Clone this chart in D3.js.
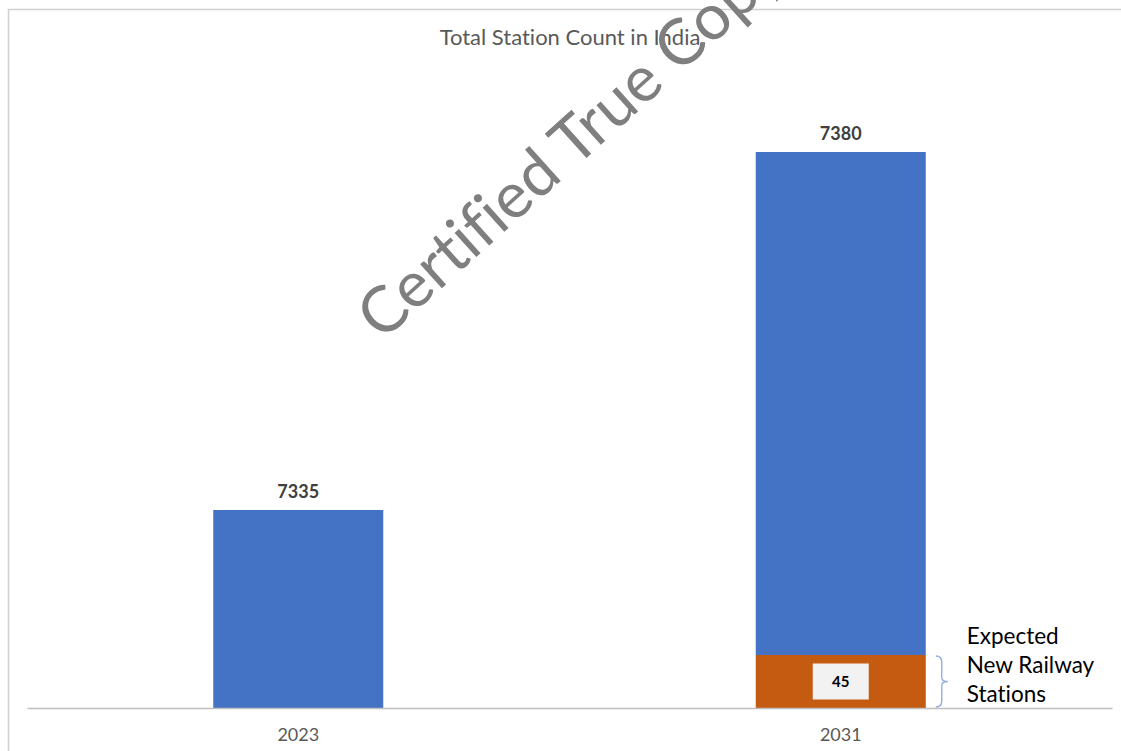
<!DOCTYPE html>
<html>
<head>
<meta charset="utf-8">
<script src="https://cdn.jsdelivr.net/npm/d3@7"></script>
<style>
  body { margin: 0; background: #fff; }
  svg { display: block; font-family: Lato, "Open Sans", sans-serif; font-variant-ligatures: none; }
</style>
</head>
<body>
<svg id="chart"></svg>
<script>
const size = {w: 1121, h: 751};
const svg = d3.select('svg#chart')
    .attr('width', size.w)
    .attr('height', size.h);

//DATA
const years = ['2023', '2031'];
const totals = [7335, 7380];
const newStations = [0, 45];
const chartTitle = 'Total Station Count in India';
const noteLines = ['Expected', 'New Railway', 'Stations'];

//frame of the chart area
svg.append('path')
    .attr('d', `M8.5,${size.h} V9.5 H${size.w}`)
    .attr('fill', 'none')
    .attr('stroke', '#d0d0d0')
    .attr('stroke-width', 1.5);

//SCALES
const x = d3.scaleBand()
    .domain(years)
    .range([27, 1112])
    .paddingInner(0.6866)
    .paddingOuter(0.3433);

// broken value axis: the small "new" part gets its own stretch at the bottom
const y = d3.scaleLinear()
    .domain([0, 45, 7335, 7380])
    .range([708, 655, 510, 152]);

//TITLE
svg.append('text')
    .attr('x', 570)
    .attr('y', 45)
    .attr('text-anchor', 'middle')
    .attr('fill', '#595959')
    .style('font-size', '22px')
    .text(chartTitle);

//BARS
const rows = years.map((d, i) => ({year: d, total: totals[i], added: newStations[i]}));

const g = svg.append('g');

g.selectAll('rect.base')
    .data(rows)
    .join('rect')
    .classed('base', true)
    .attr('x', d => x(d.year))
    .attr('width', x.bandwidth())
    .attr('y', d => y(d.total))
    .attr('height', d => y(d.added) - y(d.total))
    .attr('fill', '#4472C4');

g.selectAll('rect.added')
    .data(rows.filter(d => d.added > 0))
    .join('rect')
    .classed('added', true)
    .attr('x', d => x(d.year))
    .attr('width', x.bandwidth())
    .attr('y', d => y(d.added))
    .attr('height', d => y(0) - y(d.added))
    .attr('fill', '#C55A11');

//total labels
g.selectAll('text.total')
    .data(rows)
    .join('text')
    .classed('total', true)
    .attr('x', d => x(d.year) + x.bandwidth() / 2)
    .attr('y', d => y(d.total) - 12)
    .attr('text-anchor', 'middle')
    .attr('fill', '#404040')
    .style('font-size', '18px')
    .style('font-weight', 700)
    .text(d => d.total);

//label of the new stations (boxed)
const added = rows.filter(d => d.added > 0);
const addG = g.selectAll('g.addlabel')
    .data(added)
    .join('g')
    .classed('addlabel', true)
    .attr('transform', d => `translate(${x(d.year) + x.bandwidth() / 2}, ${(y(0) + y(d.added)) / 2})`);

addG.append('rect')
    .attr('x', -28)
    .attr('y', -18)
    .attr('width', 56)
    .attr('height', 36)
    .attr('fill', '#f2f2f2');

addG.append('text')
    .attr('text-anchor', 'middle')
    .attr('dy', '0.35em')
    .attr('fill', '#000')
    .style('font-size', '15px')
    .style('font-weight', 700)
    .text(d => d.added);

//brace and note
added.forEach(d => {
    const bx = x(d.year) + x.bandwidth() + 10;
    const top = y(d.added) + 1, bot = y(0) - 1, mid = (top + bot) / 2;
    g.append('path')
        .attr('d', `M${bx},${top} Q${bx + 6},${top} ${bx + 6},${top + 6} V${mid - 4} Q${bx + 6},${mid} ${bx + 12},${mid}
                    Q${bx + 6},${mid} ${bx + 6},${mid + 4} V${bot - 6} Q${bx + 6},${bot} ${bx},${bot}`)
        .attr('fill', 'none')
        .attr('stroke', '#8faadc')
        .attr('stroke-width', 1.3);

    g.append('text')
        .attr('x', bx + 31)
        .attr('y', top - 12)
        .attr('fill', '#000')
        .style('font-size', '22.5px')
        .selectAll('tspan')
        .data(noteLines)
        .join('tspan')
        .attr('x', bx + 31)
        .attr('dy', (t, i) => i === 0 ? 0 : 29)
        .text(t => t);
});

//AXIS
const axisG = svg.append('g')
    .attr('transform', `translate(0, ${y(0)})`)
    .call(d3.axisBottom(x).tickSize(0).tickPadding(20));

axisG.select('.domain').attr('stroke', '#bfbfbf').attr('stroke-width', 1.5);
axisG.selectAll('text')
    .attr('fill', '#595959')
    .style('font-size', '18px')
    .style('font-family', 'Lato, "Open Sans", sans-serif');

//WATERMARK
svg.append('text')
    .attr('transform', 'translate(382, 342) rotate(-42)')
    .attr('fill', '#7f7f7f')
    .style('font-size', '64px')
    .text('Certified True Copy');
</script>
</body>
</html>
